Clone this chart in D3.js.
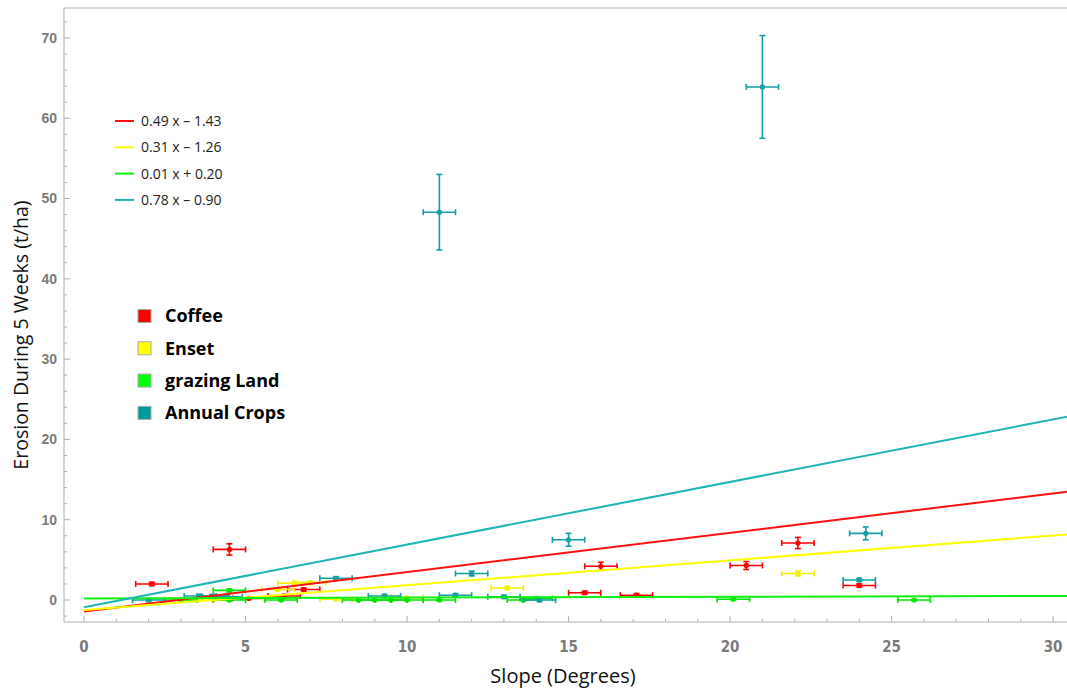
<!DOCTYPE html>
<html>
<head>
<meta charset="utf-8">
<script src="https://cdn.jsdelivr.net/npm/d3@7"></script>
<style>
  body { margin: 0; background: #fff; }
  svg { display: block; }
  .tick-x { font-family: "Liberation Sans Narrow", "DejaVu Sans Condensed", sans-serif; font-weight: bold; font-size: 15px; fill: #7a7a7a; }
  .tick-y { font-family: "Liberation Sans", sans-serif; font-weight: bold; font-size: 14px; fill: #7a7a7a; }
  .title { font-family: "Open Sans", sans-serif; font-size: 19px; fill: #111; }
</style>
</head>
<body>
<div id="chart"></div>
<script>
// data: [slope, erosion, slope error, erosion error]
var coffee = [
  [2.1, 2.0, 0.5, 0.2], [4.5, 6.3, 0.5, 0.7], [5.1, 0.2, 0.5, 0.1],
  [6.2, 0.5, 0.5, 0.2], [6.8, 1.3, 0.5, 0.2], [15.5, 0.9, 0.5, 0.2],
  [16.0, 4.2, 0.5, 0.5], [17.1, 0.6, 0.5, 0.2], [20.5, 4.3, 0.5, 0.5],
  [22.1, 7.1, 0.5, 0.7], [24.0, 1.8, 0.5, 0.2]
];
var enset = [
  [4.0, 0.0, 0.5, 0.1], [6.0, 1.3, 0.5, 0.1], [6.5, 2.1, 0.5, 0.1],
  [7.0, 2.2, 0.5, 0.1], [7.8, 0.1, 0.5, 0.1], [10.0, 0.3, 0.5, 0.1],
  [13.1, 1.5, 0.5, 0.2], [22.1, 3.3, 0.5, 0.3]
];
var grazing = [
  [3.0, 0.0, 0.5, 0.1], [4.5, 1.2, 0.5, 0.2], [4.5, 0.0, 0.5, 0.1],
  [6.1, 0.0, 0.5, 0.1], [8.5, 0.0, 0.5, 0.1], [9.0, 0.0, 0.5, 0.1],
  [9.5, 0.0, 0.5, 0.1], [10.0, 0.0, 0.5, 0.1], [11.0, 0.0, 0.5, 0.1],
  [13.6, 0.0, 0.5, 0.1], [14.0, 0.2, 0.5, 0.1], [20.1, 0.1, 0.5, 0.1],
  [25.7, 0.0, 0.5, 0.1]
];
var annual = [
  [2.0, 0.0, 0.5, 0.2], [3.6, 0.5, 0.5, 0.2], [4.0, 0.5, 0.5, 0.2],
  [4.4, 0.4, 0.5, 0.2], [7.8, 2.7, 0.5, 0.2], [9.3, 0.5, 0.5, 0.2],
  [11.5, 0.6, 0.5, 0.2], [12.0, 3.3, 0.5, 0.3], [13.0, 0.4, 0.5, 0.2],
  [14.1, 0.0, 0.5, 0.2], [15.0, 7.5, 0.5, 0.8], [11.0, 48.3, 0.5, 4.7],
  [21.0, 63.9, 0.5, 6.4], [24.2, 8.3, 0.5, 0.8], [24.0, 2.5, 0.5, 0.2]
];

// fitted lines [slope, intercept] and labels
var fits = [[0.49, -1.43], [0.31, -1.26], [0.01, 0.20], [0.78, -0.90]];
var fitLabels = ["0.49 x \u2013 1.43", "0.31 x \u2013 1.26", "0.01 x + 0.20", "0.78 x \u2013 0.90"];
var categories = ["Coffee", "Enset", "grazing Land", "Annual Crops"];
var xTicks = [0, 5, 10, 15, 20, 25, 30];
var yTicks = [0, 10, 20, 30, 40, 50, 60, 70];

var lineColors = ["#ff1010", "#ffff00", "#10f010", "#1fb4b6"];
var pointColors = ["#ff0000", "#f2f200", "#00e600", "#119fa1"];
var boxColors = ["#ff0000", "#ffff00", "#00ff00", "#009a9a"];

var W = 1067, H = 691;
var margin = { top: 8, right: 0, bottom: 69, left: 64 };
var width = W - margin.left - margin.right;
var height = H - margin.top - margin.bottom;

var svg = d3.select("#chart").append("svg")
  .attr("width", W)
  .attr("height", H);

var g = svg.append("g")
  .attr("transform", "translate(" + margin.left + "," + margin.top + ")");

var x = d3.scaleLinear().domain([-0.62, 30.43]).range([0, width]);
var y = d3.scaleLinear().domain([-2.74, 73.73]).range([height, 0]);

// frame
g.append("path")
  .attr("d", "M" + width + ",0H0V" + height + "H" + width)
  .attr("fill", "none")
  .attr("stroke", "#b0b0b0")
  .attr("stroke-width", 1);

// minor + major ticks, inside the frame
var xMinor = d3.range(0, 31, 1);
g.selectAll(".xminor").data(xMinor).enter().append("line")
  .attr("x1", d => x(d)).attr("x2", d => x(d))
  .attr("y1", height).attr("y2", d => height - (d % 5 === 0 ? 6 : 3))
  .attr("stroke", "#b0b0b0");

var yMinor = d3.range(-2, 74, 2);
g.selectAll(".yminor").data(yMinor).enter().append("line")
  .attr("y1", d => y(d)).attr("y2", d => y(d))
  .attr("x1", 0).attr("x2", d => (d % 10 === 0 ? 6 : 3))
  .attr("stroke", "#b0b0b0");

g.selectAll(".tick-x").data(xTicks).enter().append("text")
  .attr("class", "tick-x")
  .attr("x", d => x(d))
  .attr("y", height + 30)
  .attr("text-anchor", "middle")
  .text(d => d);

g.selectAll(".tick-y").data(yTicks).enter().append("text")
  .attr("class", "tick-y")
  .attr("x", -7)
  .attr("y", d => y(d))
  .attr("dy", "0.35em")
  .attr("text-anchor", "end")
  .text(d => d);

// axis titles
svg.append("text")
  .attr("class", "title")
  .attr("x", 563)
  .attr("y", 683)
  .attr("text-anchor", "middle")
  .style("font-size", "20px")
  .text("Slope (Degrees)");

svg.append("text")
  .attr("class", "title")
  .attr("transform", "translate(28,335) rotate(-90)")
  .attr("text-anchor", "middle")
  .style("font-size", "19.5px")
  .text("Erosion During 5 Weeks (t/ha)");

// points with error bars
var plot = g.append("g");
var cap = 3;
[coffee, enset, grazing, annual].forEach(function(series, i) {
  var s = plot.append("g")
    .attr("stroke", pointColors[i])
    .attr("fill", pointColors[i])
    .attr("stroke-width", 1.6);

  var pt = s.selectAll("g").data(series).enter().append("g");

  pt.append("line")
    .attr("x1", d => x(d[0] - d[2])).attr("x2", d => x(d[0] + d[2]))
    .attr("y1", d => y(d[1])).attr("y2", d => y(d[1]));
  pt.append("line")
    .attr("x1", d => x(d[0] - d[2])).attr("x2", d => x(d[0] - d[2]))
    .attr("y1", d => y(d[1]) - cap).attr("y2", d => y(d[1]) + cap);
  pt.append("line")
    .attr("x1", d => x(d[0] + d[2])).attr("x2", d => x(d[0] + d[2]))
    .attr("y1", d => y(d[1]) - cap).attr("y2", d => y(d[1]) + cap);

  pt.append("line")
    .attr("x1", d => x(d[0])).attr("x2", d => x(d[0]))
    .attr("y1", d => y(d[1] - d[3])).attr("y2", d => y(d[1] + d[3]));
  pt.append("line")
    .attr("x1", d => x(d[0]) - cap).attr("x2", d => x(d[0]) + cap)
    .attr("y1", d => y(d[1] - d[3])).attr("y2", d => y(d[1] - d[3]));
  pt.append("line")
    .attr("x1", d => x(d[0]) - cap).attr("x2", d => x(d[0]) + cap)
    .attr("y1", d => y(d[1] + d[3])).attr("y2", d => y(d[1] + d[3]));

  pt.append("circle")
    .attr("cx", d => x(d[0]))
    .attr("cy", d => y(d[1]))
    .attr("r", 2.6)
    .attr("stroke", "none");
});

// fit lines from x = 0 to the right edge
var x1 = x.domain()[1];
g.selectAll(".fit").data(fits).enter().append("line")
  .attr("class", "fit")
  .attr("x1", x(0)).attr("y1", d => y(d[1]))
  .attr("x2", x(x1)).attr("y2", d => y(d[0] * x1 + d[1]))
  .attr("stroke", (d, i) => lineColors[i])
  .attr("stroke-width", 2);

// legend for the fits
var leg1 = svg.selectAll(".leg1").data(fitLabels).enter().append("g")
  .attr("transform", (d, i) => "translate(115," + (121 + i * 26.3) + ")");
leg1.append("line")
  .attr("x1", 0).attr("x2", 19)
  .attr("stroke", (d, i) => lineColors[i])
  .attr("stroke-width", 2);
leg1.append("text")
  .attr("x", 26)
  .attr("dy", "0.35em")
  .style("font-family", "'Open Sans', sans-serif")
  .style("font-size", "14px")
  .style("fill", "#222")
  .text(d => d);

// legend for the land uses
var leg2 = svg.selectAll(".leg2").data(categories).enter().append("g")
  .attr("transform", (d, i) => "translate(138," + (316 + i * 32.3) + ")");
leg2.append("rect")
  .attr("x", 0).attr("y", -6.5)
  .attr("width", 13).attr("height", 13)
  .attr("fill", (d, i) => boxColors[i])
  .attr("stroke", "#aaa")
  .attr("stroke-width", 1);
leg2.append("text")
  .attr("x", 27)
  .attr("dy", "0.35em")
  .style("font-family", "'Open Sans', sans-serif")
  .style("font-weight", "bold")
  .style("font-size", "18px")
  .style("fill", "#000")
  .text(d => d);
</script>
</body>
</html>
